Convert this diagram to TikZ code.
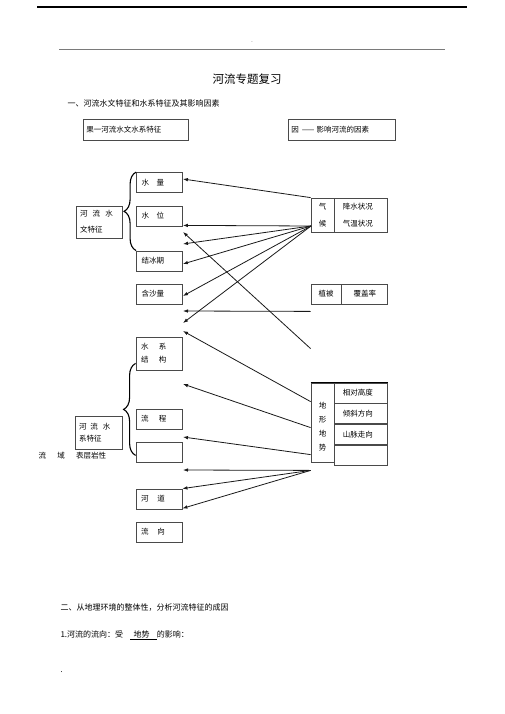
\documentclass[tikz,border=0pt]{standalone}
\usepackage{fontspec}
\setmainfont{Noto Sans CJK SC}
\usepackage{tikz}
\usetikzlibrary{arrows.meta,positioning,calc,decorations.pathreplacing}
\definecolor{boxline}{HTML}{4A4A4A}
\definecolor{rulegray}{HTML}{7A7A7A}

\begin{document}
\begin{tikzpicture}[x=1pt,y=-1pt,font=\fontsize{7.5}{9}\selectfont,
  fbox/.style={draw=boxline,line width=0.8pt,minimum height=20pt,text width=36pt,inner xsep=5pt,inner ysep=0pt,align=left},
  cell/.style={draw=boxline,line width=0.8pt,inner sep=0pt,minimum height=20pt},
  arr/.style={-{Latex[length=5pt,width=3.6pt]},line width=0.8pt,black!90},
  brc/.style={decorate,decoration={brace,amplitude=12pt},line width=1.1pt}]
  \useasboundingbox (0,0) rectangle (505,714);
  \draw[line width=1.2pt] (37,7) -- (467,7);
  \draw[rulegray,line width=0.8pt] (59,49) -- (445,49);
  \node[font=\tiny,text=black!50] (dash) at (252,43) {-};
  \node[font=\fontsize{11.5}{13}\selectfont] (title) at (247,79) {河流专题复习};
  \node[anchor=west,font=\fontsize{8}{10}\selectfont] (sec1) at (64,103) {一、河流水文特征和水系特征及其影响因素};
  \node[draw=boxline,line width=0.8pt,text width=99pt,inner xsep=3pt,minimum height=21pt,anchor=west] (guo) at (83,129.5) {果一河流水文水系特征};
  \node[draw=boxline,line width=0.8pt,text width=101pt,inner xsep=3pt,minimum height=21pt,anchor=west] (yin) at (288,129.5) {因\hspace{0.4em}——\hspace{0.3em}影响河流的因素};
  \node[fbox] (sl) at (159.5,182.5) {水\hspace{1em}量};
  \node[fbox] (sw) at (159.5,216) {水\hspace{1em}位};
  \node[fbox] (jbq) at (159.5,261) {结冰期};
  \node[fbox] (hsl) at (159.5,294) {含沙量};
  \node[fbox,minimum height=32pt,text width=38pt,inner xsep=4pt,font=\fontsize{7.5}{16}\selectfont] (swtz) at (99,222) {河\hspace{0.7em}流\hspace{0.7em}水\\文特征};
  \node[fbox,minimum height=33pt,font=\fontsize{7.5}{13}\selectfont] (sxjg) at (159,353.5) {水\hspace{1.4em}系\\结\hspace{1.4em}构};
  \node[fbox] (lc) at (159,419) {流\hspace{1.4em}程};
  \node[fbox] (kong) at (159,452) {};
  \node[fbox] (hd) at (159,499) {河\hspace{1.2em}道};
  \node[fbox] (lx) at (159,532) {流\hspace{1.2em}向};
  \node[fbox,minimum height=33pt,text width=39pt,inner xsep=4pt,font=\fontsize{7.5}{12}\selectfont] (sxtz) at (98.5,432.5) {河\hspace{0.5em}流\hspace{0.7em}水\\系特征};
  \node[anchor=west] (lyyx) at (35,456) {流\hspace{1.5em}域\hspace{1.5em}表层岩性};
  \draw[brc] (jbq.north west) -- (sl.north west);
  \draw[brc] ([yshift=7pt]kong.south west) -- ([yshift=7pt]sxjg.south west);
  \node[cell,minimum width=23pt,minimum height=34pt,align=center,font=\fontsize{7.5}{17}\selectfont] (qh) at (322.5,215) {气\\候};
  \node[cell,minimum height=34pt,text width=37pt,inner xsep=8pt,align=left,anchor=west,font=\fontsize{7.5}{17}\selectfont] (qhzk) at (qh.east) {降水状况\\气温状况};
  \node[cell,minimum width=30pt] (zb) at (326,294) {植被};
  \node[cell,minimum width=46pt,anchor=west] (fgl) at (zb.east) {覆盖率};
  \node[cell,minimum width=23pt,minimum height=79pt,
    label={[align=center,font=\fontsize{7.5}{14}\selectfont,yshift=-4pt]center:地\\形\\地\\势}] (dxds) at (322.5,422.5) {};
  \node[cell,text width=37pt,inner xsep=8pt,align=left,anchor=north west] (xdgd) at (dxds.north east) {相对高度};
  \node[cell,text width=37pt,inner xsep=8pt,align=left,anchor=north] (qxfx) at (xdgd.south) {倾斜方向};
  \node[cell,text width=37pt,inner xsep=8pt,align=left,anchor=north] (smzx) at (qxfx.south) {山脉走向};
  \node[cell,text width=37pt,inner xsep=8pt,align=left,anchor=north] (dxkong) at (smzx.south) {};
  \draw[line width=1.4pt] (dxds.north west) -- (xdgd.north east);
  \coordinate (qhsrc) at (311,226);
  \coordinate (zbsrc) at ([yshift=-7pt]zb.south west);
  \coordinate (dxtop) at ([yshift=34pt]dxds.north west);
  \coordinate (dxsrc) at ([yshift=-8pt]dxds.south west);
  \coordinate (swin) at ([yshift=1pt]sw.south east);
  \coordinate (jbqin) at ([yshift=-3pt]jbq.east);
  \coordinate (hslin) at ([yshift=-2pt]hsl.east);
  \coordinate (hdin) at ([yshift=1pt]hd.south east);
  \foreach \n/\y in {a/244,b/323,c/232,d/311,e/331,f/384,g/437,h/470}
    \coordinate (t\n) at (183,\y);
  \draw[arr] (qh.north west) -- ([yshift=3.5pt]sl.east);
  \foreach \t in {swin,ta,jbqin,hslin,tb}
    \draw[arr] (qhsrc) -- (\t);
  \draw[arr] (dxtop) -- (tc);
  \draw[arr] (zbsrc) -- (td);
  \draw[arr] ([yshift=-19pt]dxds.north west) -- (te);
  \draw[arr] ([yshift=-45pt]dxds.north west) -- (tf);
  \draw[arr] ([yshift=-72pt]dxds.north west) -- (tg);
  \foreach \t in {th,hd.north east,hdin}
    \draw[arr] (dxsrc) -- (\t);
  \node[anchor=west,font=\fontsize{8}{10}\selectfont] (sec2) at (57,608) {二、从地理环境的整体性，分析河流特征的成因};
  \node[anchor=west,font=\fontsize{8}{10}\selectfont] (q1) at (57,635) {1.河流的流向：受\hspace{0.9em}\underline{\hspace{0.4em}地势\hspace{0.9em}}的影响：};
  \node[anchor=west] (dot) at (57,672) {.};
\end{tikzpicture}
\end{document}
